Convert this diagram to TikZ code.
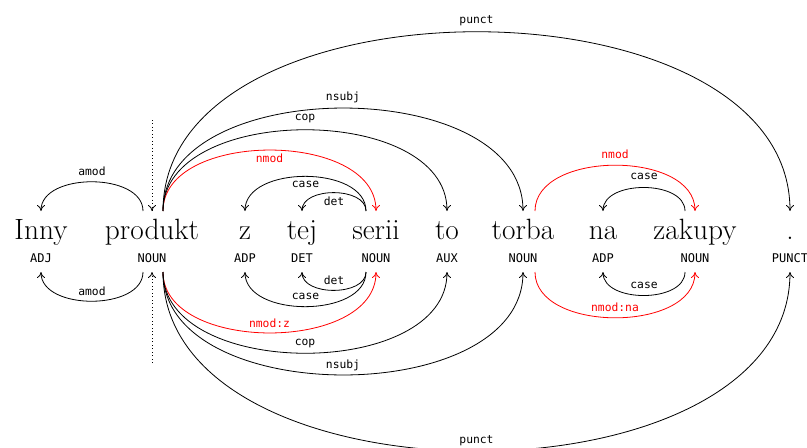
\documentclass[tikz,border=0pt]{standalone}
\usepackage{fontspec}
\newfontfamily\tagfont{DejaVu Sans Mono}
\usepackage{tikz}
\usetikzlibrary{arrows.meta,calc}

\begin{document}
\begin{tikzpicture}[x=0.75pt, y=-0.75pt, >={To[length=4.5pt,width=6pt]},
  word/.style={anchor=base, inner sep=0pt, font=\fontsize{22}{26}\selectfont},
  tag/.style={anchor=base, inner sep=0pt, font=\tagfont\fontsize{9}{11}\selectfont},
  dep/.style={->, line width=0.6pt},
  lab/.style={inner sep=0pt, font=\tagfont\fontsize{8.5}{10}\selectfont},
  rootline/.style={->, dotted, line width=0.6pt}]
  \useasboundingbox (0,0) rectangle (807,447);
  % words, tags and the points where the arcs meet them
  \foreach \x/\w/\t [count=\i] in {41/Inny/ADJ, 152/produkt/NOUN, 245/z/ADP, 302/tej/DET,
      376/serii/NOUN, 447/to/AUX, 523/torba/NOUN, 603/na/ADP, 695/zakupy/NOUN, 790/./PUNCT} {
    \node[word] (w\i) at (\x,239) {\w};
    \node[tag] (t\i) at (\x,262) {\t};
    \coordinate (up\i) at (\x,211);
    \coordinate (dn\i) at (\x,272);
  }
  % root
  \coordinate (rtop) at (152,120);
  \coordinate (rbot) at (152,363);
  \draw[rootline] (rtop) -- (up2);
  \draw[rootline] (rbot) -- (dn2);
  % arcs: head/dependent/offset/upper label/lower label/label shift/colour
  \foreach \hd/\dd/\off/\ulab/\llab/\lsh/\col in {2/1/-9/amod/amod/8.25/black,
      2/5/11/nmod/nmod:z/-6/red, 2/6/11/cop/cop/8.25/black, 2/7/11/nsubj/nsubj/8.25/black,
      2/10/11/punct/punct/8.25/black, 5/3/-10/case/case/-6/black, 5/4/-10/det/det/-6.75/black,
      7/9/12/nmod/nmod:na/8.25/red, 9/8/-10/case/case/8.25/black} {
    \draw[dep, color=\col] let \p1=($(up\hd)+(\off,0)$), \p2=(up\dd), \n1={0.381*abs(\x2-\x1)} in
      (\p1) .. controls +(0pt,\n1) and +(0pt,\n1) .. (\p2)
      node[lab, pos=0.5, yshift=\lsh pt] {\ulab};
    \draw[dep, color=\col] let \p1=($(dn\hd)+(\off,0)$), \p2=(dn\dd), \n1={0.381*abs(\x2-\x1)} in
      (\p1) .. controls +(0pt,-\n1) and +(0pt,-\n1) .. (\p2)
      node[lab, pos=0.5, yshift=7.5pt] {\llab};
  }
\end{tikzpicture}
\end{document}
